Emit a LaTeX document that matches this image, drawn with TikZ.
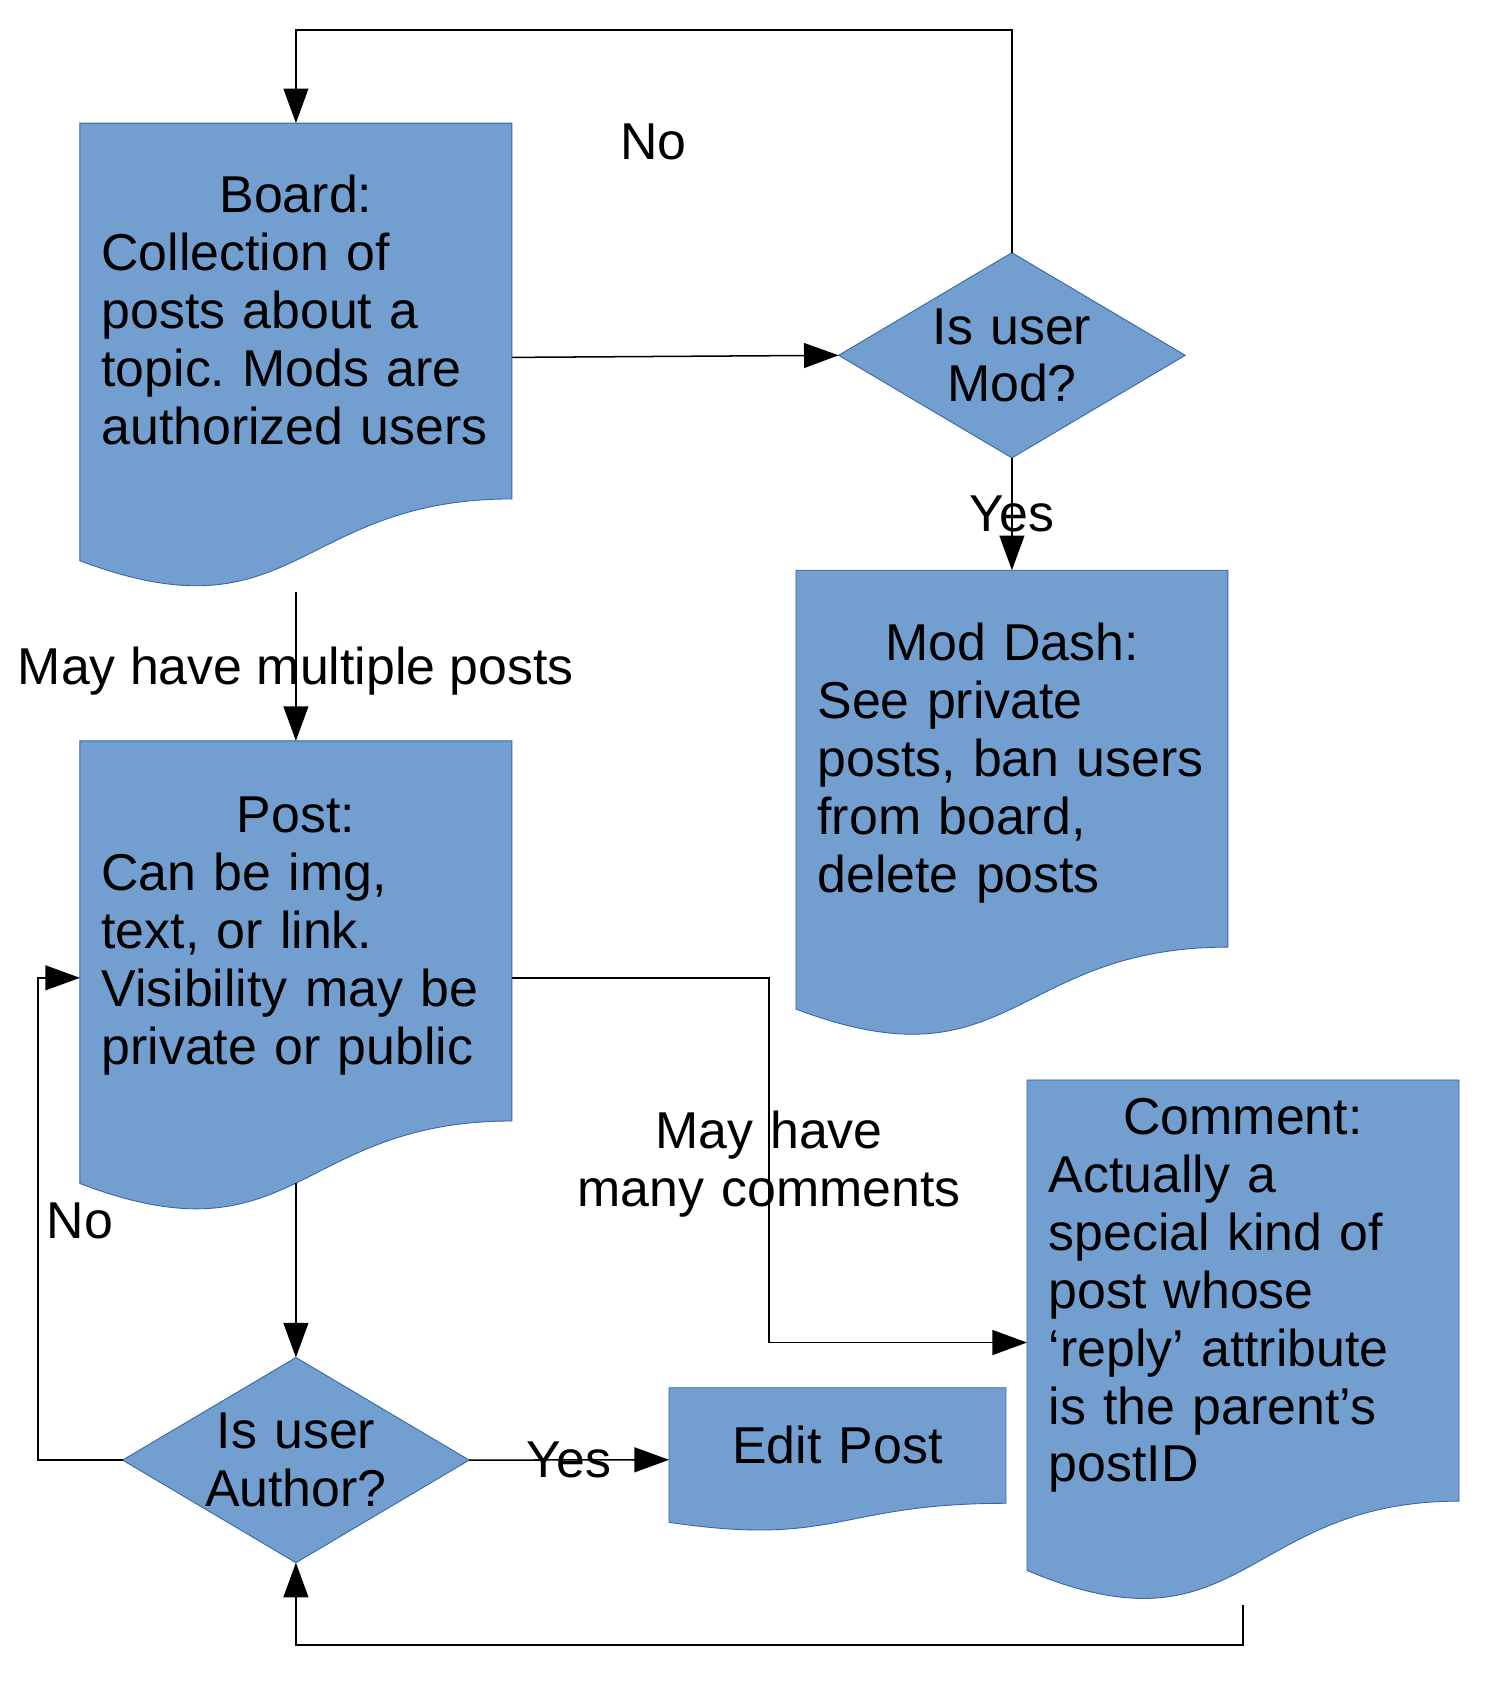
\documentclass[tikz,border=0pt]{standalone}
\usepackage{fontspec}
\setmainfont{Liberation Sans}
\usepackage{tikz}
\usetikzlibrary{positioning}
\usetikzlibrary{arrows.meta}
\usetikzlibrary{shapes,calc,backgrounds}
\definecolor{docblue}{HTML}{729FCF}
\definecolor{docedge}{HTML}{3465A4}
\frenchspacing
\newcommand\ls{\rule[-10.4pt]{0pt}{53.6pt}}
\tikzset{doc node/.style={rectangle,inner sep=0pt,outer sep=0pt,minimum width=400pt,text width=360pt,align=left,
    execute at begin node=\ls,execute at end node=\ls},
  dec node/.style={diamond,fill=docblue,draw=docedge,line width=0.8pt,inner xsep=-70pt,inner ysep=-45pt,outer sep=0pt,
    minimum width=321pt,minimum height=190pt,text width=200pt,align=center,execute at begin node=\ls,execute at end node=\ls},
  label node/.style={inner sep=0pt,align=center,execute at begin node=\ls,execute at end node=\ls},
  flow/.style={-{Triangle[length=32pt,width=23pt]},line width=1.4pt}}
% document shape with a wavy bottom
\newcommand\docshape[1]{%
  \fill[docblue,draw=docedge,line width=0.8pt] let \p1=(#1.north), \p2=(#1.south), \n1={\y1-\y2} in
    (#1.north west) -- (#1.north east) -- (#1.south east)
    .. controls (#1.south) and ($(#1.south)+(0pt,-0.381*\n1)$)
    .. ($(#1.south west)+(0pt,-0.1645*\n1)$) -- cycle;}
% glue points of the whole shape
\newcommand\docpoints[1]{%
  \path let \p1=(#1.north), \p2=(#1.south), \n1={\y1-\y2} in
    ($(#1.north west)+(0pt,-0.6234*\n1)$) coordinate (#1-w)
    ($(#1.north east)+(0pt,-0.6234*\n1)$) coordinate (#1-e)
    ($(#1.north)+(0pt,-1.2469*\n1)$) coordinate (#1-s)
    ($(#1.north)+(0pt,-1.1633*\n1)$) coordinate (#1-b);}
\begin{document}
\begin{tikzpicture}[x=1pt,y=-1pt,font=\fontsize{48}{53.6}\selectfont]
	\useasboundingbox (0,0) rectangle (1380,1576);
	\node[doc node, minimum height=348pt] (board) at (274,288)
	    {\makebox[360pt]{Board:}\\Collection of\\posts about a\\topic. Mods are\\authorized users};
	\node[dec node] (mod) at (937,329) {Is user\\Mod?};
	\node[doc node, minimum height=349pt] (dash) [below=104pt of mod]
	    {\makebox[360pt]{Mod Dash:}\\See private\\posts, ban users\\from board,\\delete posts};
	\node[doc node, minimum height=352pt] (post) [below=224pt of board]
	    {\makebox[360pt]{Post:}\\Can be img,\\text, or link.\\Visibility may be\\private or public};
	\node[dec node] (author) [below=219pt of post] {Is user\\Author?};
	\node[doc node, minimum width=312pt, text width=272pt, align=center, minimum height=107pt] (edit)
	    [right=185pt of author, yshift=13.5pt] {Edit Post};
	\node[doc node, minimum height=390pt] (comment) at (1151,1195)
	    {\makebox[360pt]{Comment:}\\Actually a\\special kind of\\post whose\\‘reply’ attribute\\is the parent’s\\postID};

	\begin{scope}[on background layer]
	    \foreach \d in {board,dash,post,comment,edit} {\docshape{\d}}
	\end{scope}
	\foreach \d in {board,dash,post,comment,edit} {\docpoints{\d}}

	\node[label node] (nomod) at (605,131) {No};
	\node[label node] (noauthor) at (74,1130) {No};
	\coordinate (back1) at (274,28);
	\coordinate (split) at (712,1074);
	\coordinate (back2) at (35,1130);
	\coordinate (back3) at (274,1523);

	\draw[flow] (mod.north) |- (back1) -- (board.north);
	\draw[flow] (board-e) -- (mod.west);
	\draw[flow] (mod.south) -- node[label node] {Yes} (dash.north);
	\draw[flow] (board-s) -- node[label node] {May have multiple posts} (post.north);
	\draw[flow] (post-e) -| (split) node[label node, text width=370pt] {May have\\many comments} |- (comment-w);
	\draw[flow] (post-b) -- (author.north);
	\draw[flow] (author.east) -- node[label node] {Yes} (edit-w);
	\draw[flow] (author.west) -| (back2) |- (post-w);
	\draw[flow] (comment-s) |- (back3) -- (author.south);
\end{tikzpicture}
\end{document}
